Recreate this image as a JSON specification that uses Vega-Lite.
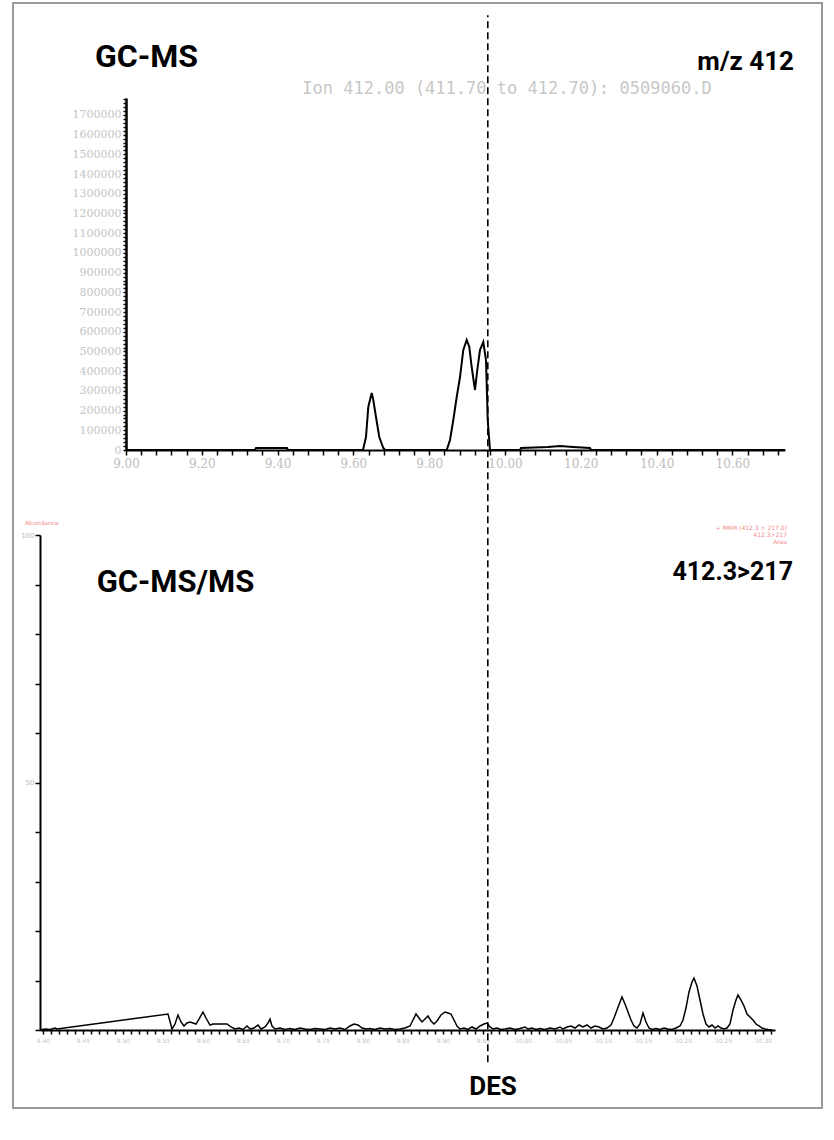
{
  "$schema": "https://vega.github.io/schema/vega-lite/v6.json",
  "width": 809,
  "height": 1105,
  "padding": {"left": 13, "top": 3, "right": 12, "bottom": 32},
  "autosize": {"type": "none"},
  "background": "white",
  "config": {"view": {"stroke": "#9a9a9a", "strokeWidth": 2}, "axis": {"grid": false}},
  "datasets": {
    "top": [
      {"t": 9.0, "v": 0}, {"t": 9.3404, "v": 0}, {"t": 9.343, "v": 10148}, {"t": 9.4248, "v": 10148}, {"t": 9.4274, "v": 0},
      {"t": 9.6253, "v": 0}, {"t": 9.6332, "v": 65962}, {"t": 9.6393, "v": 218182}, {"t": 9.6483, "v": 289218}, {"t": 9.6525, "v": 253700},
      {"t": 9.6596, "v": 167442}, {"t": 9.6683, "v": 65962}, {"t": 9.6789, "v": 10148}, {"t": 9.6834, "v": 0},
      {"t": 9.8462, "v": 0}, {"t": 9.8549, "v": 50740}, {"t": 9.8636, "v": 152220}, {"t": 9.8726, "v": 268922}, {"t": 9.8813, "v": 370402},
      {"t": 9.89, "v": 507400}, {"t": 9.8989, "v": 558140}, {"t": 9.9058, "v": 522622}, {"t": 9.9121, "v": 421142}, {"t": 9.9208, "v": 304440},
      {"t": 9.9269, "v": 405920}, {"t": 9.934, "v": 507400}, {"t": 9.9427, "v": 547992}, {"t": 9.9499, "v": 456660}, {"t": 9.9544, "v": 152220},
      {"t": 9.9604, "v": 0}, {"t": 10.0396, "v": 0}, {"t": 10.0422, "v": 10148}, {"t": 10.1135, "v": 15222}, {"t": 10.1451, "v": 20296},
      {"t": 10.1794, "v": 15222}, {"t": 10.2243, "v": 10148}, {"t": 10.2269, "v": 0}, {"t": 10.7388, "v": 0}
    ],
    "bottom": [
      {"t": 9.39625, "v": 0}, {"t": 9.4025, "v": 0.2}, {"t": 9.40875, "v": 0.1}, {"t": 9.415, "v": 0.4}, {"t": 9.4175, "v": 0.2},
      {"t": 9.55625, "v": 3.23}, {"t": 9.56125, "v": 0.2}, {"t": 9.565, "v": 1.21}, {"t": 9.56875, "v": 3.03}, {"t": 9.5725, "v": 1.62},
      {"t": 9.57625, "v": 0.81}, {"t": 9.58, "v": 1.41}, {"t": 9.58375, "v": 1.62}, {"t": 9.5875, "v": 1.41}, {"t": 9.59125, "v": 1.21},
      {"t": 9.595, "v": 2.22}, {"t": 9.6, "v": 3.64}, {"t": 9.60375, "v": 2.42}, {"t": 9.60875, "v": 1.01}, {"t": 9.6125, "v": 1.21},
      {"t": 9.6175, "v": 1.21}, {"t": 9.62375, "v": 1.21}, {"t": 9.63, "v": 1.21}, {"t": 9.635, "v": 0.61}, {"t": 9.64, "v": 0.2},
      {"t": 9.645, "v": 0.4}, {"t": 9.65, "v": 0.1}, {"t": 9.655, "v": 0.81}, {"t": 9.65875, "v": 0.2}, {"t": 9.66375, "v": 0.4},
      {"t": 9.66875, "v": 1.01}, {"t": 9.6725, "v": 0.2}, {"t": 9.6775, "v": 0.61}, {"t": 9.68125, "v": 1.41}, {"t": 9.68375, "v": 2.22},
      {"t": 9.68625, "v": 0.81}, {"t": 9.69, "v": 0.2}, {"t": 9.69625, "v": 0.4}, {"t": 9.7025, "v": 0.1}, {"t": 9.70875, "v": 0.3},
      {"t": 9.715, "v": 0.1}, {"t": 9.72125, "v": 0.4}, {"t": 9.7275, "v": 0.2}, {"t": 9.73375, "v": 0.1}, {"t": 9.74, "v": 0.3},
      {"t": 9.74625, "v": 0.2}, {"t": 9.7525, "v": 0.1}, {"t": 9.75875, "v": 0.4}, {"t": 9.765, "v": 0.2}, {"t": 9.77125, "v": 0.4},
      {"t": 9.7775, "v": 0.1}, {"t": 9.78375, "v": 0.81}, {"t": 9.78875, "v": 1.21}, {"t": 9.79375, "v": 1.01}, {"t": 9.79875, "v": 0.4},
      {"t": 9.80375, "v": 0.2}, {"t": 9.80875, "v": 0.3}, {"t": 9.815, "v": 0.1}, {"t": 9.82125, "v": 0.4}, {"t": 9.8275, "v": 0.2},
      {"t": 9.83375, "v": 0.3}, {"t": 9.84, "v": 0.1}, {"t": 9.84625, "v": 0.2}, {"t": 9.8525, "v": 0.4}, {"t": 9.85875, "v": 0.81},
      {"t": 9.8625, "v": 2.02}, {"t": 9.86625, "v": 3.23}, {"t": 9.87, "v": 2.42}, {"t": 9.87375, "v": 1.62}, {"t": 9.8775, "v": 2.22},
      {"t": 9.88125, "v": 2.83}, {"t": 9.885, "v": 1.82}, {"t": 9.88875, "v": 1.21}, {"t": 9.8925, "v": 1.82}, {"t": 9.8975, "v": 3.03},
      {"t": 9.9025, "v": 3.64}, {"t": 9.90625, "v": 3.43}, {"t": 9.91, "v": 3.23}, {"t": 9.91375, "v": 2.02}, {"t": 9.9175, "v": 0.81},
      {"t": 9.92125, "v": 0.2}, {"t": 9.92625, "v": 0.4}, {"t": 9.93125, "v": 0.1}, {"t": 9.93625, "v": 0.61}, {"t": 9.94125, "v": 0.2},
      {"t": 9.94625, "v": 0.81}, {"t": 9.95125, "v": 1.21}, {"t": 9.955, "v": 1.41}, {"t": 9.95875, "v": 0.61}, {"t": 9.9625, "v": 0.2},
      {"t": 9.9675, "v": 0.4}, {"t": 9.9725, "v": 0.1}, {"t": 9.9775, "v": 0.2}, {"t": 9.98375, "v": 0.4}, {"t": 9.99, "v": 0.1},
      {"t": 9.99625, "v": 0.3}, {"t": 10.0025, "v": 0.61}, {"t": 10.00625, "v": 0.2}, {"t": 10.01125, "v": 0.4}, {"t": 10.01625, "v": 0.1},
      {"t": 10.02125, "v": 0.3}, {"t": 10.0275, "v": 0.1}, {"t": 10.03375, "v": 0.4}, {"t": 10.04, "v": 0.2}, {"t": 10.04625, "v": 0.61},
      {"t": 10.05, "v": 0.2}, {"t": 10.055, "v": 0.61}, {"t": 10.06, "v": 0.81}, {"t": 10.065, "v": 0.4}, {"t": 10.07, "v": 1.01},
      {"t": 10.075, "v": 0.61}, {"t": 10.08, "v": 1.01}, {"t": 10.085, "v": 0.4}, {"t": 10.09, "v": 0.81}, {"t": 10.095, "v": 0.61},
      {"t": 10.1, "v": 0.2}, {"t": 10.105, "v": 0.4}, {"t": 10.11, "v": 1.01}, {"t": 10.11375, "v": 2.42}, {"t": 10.1175, "v": 4.04},
      {"t": 10.12125, "v": 5.66}, {"t": 10.12375, "v": 6.67}, {"t": 10.1275, "v": 5.25}, {"t": 10.13125, "v": 3.64}, {"t": 10.135, "v": 2.02},
      {"t": 10.13875, "v": 0.81}, {"t": 10.1425, "v": 0.4}, {"t": 10.14625, "v": 1.21}, {"t": 10.15, "v": 3.43}, {"t": 10.15375, "v": 1.62},
      {"t": 10.1575, "v": 0.4}, {"t": 10.16125, "v": 0.1}, {"t": 10.16625, "v": 0.3}, {"t": 10.17125, "v": 0.1}, {"t": 10.17625, "v": 0.4},
      {"t": 10.18125, "v": 0.2}, {"t": 10.18625, "v": 0.1}, {"t": 10.19125, "v": 0.4}, {"t": 10.19625, "v": 0.81}, {"t": 10.2, "v": 2.02},
      {"t": 10.20375, "v": 4.44}, {"t": 10.2075, "v": 7.68}, {"t": 10.21125, "v": 9.7}, {"t": 10.21375, "v": 10.5}, {"t": 10.2175, "v": 8.89},
      {"t": 10.22125, "v": 6.06}, {"t": 10.225, "v": 3.23}, {"t": 10.22875, "v": 1.21}, {"t": 10.2325, "v": 0.61}, {"t": 10.23625, "v": 1.01},
      {"t": 10.24, "v": 0.4}, {"t": 10.24375, "v": 0.81}, {"t": 10.2475, "v": 0.4}, {"t": 10.25125, "v": 0.2}, {"t": 10.255, "v": 0.4},
      {"t": 10.25875, "v": 1.21}, {"t": 10.2625, "v": 4.04}, {"t": 10.26625, "v": 6.06}, {"t": 10.26875, "v": 7.07}, {"t": 10.2725, "v": 6.06},
      {"t": 10.27625, "v": 4.85}, {"t": 10.28, "v": 3.23}, {"t": 10.28375, "v": 2.63}, {"t": 10.2875, "v": 2.02}, {"t": 10.29125, "v": 1.21},
      {"t": 10.295, "v": 0.81}, {"t": 10.29875, "v": 0.4}, {"t": 10.3025, "v": 0.2}, {"t": 10.30625, "v": 0.1}, {"t": 10.31125, "v": 0}
    ],
    "topTitleLeft": [{"t": 8.918, "v": 1944900, "label": "GC-MS"}],
    "topTitleRight": [{"t": 10.7625, "v": 1928100, "label": "m/z 412"}],
    "topHeader": [{"t": 10.0053, "v": 1806300, "label": "Ion 412.00 (411.70 to 412.70): 0509060.D"}],
    "bottomTitleLeft": [{"t": 9.4671, "v": 88.5, "label": "GC-MS/MS"}],
    "bottomTitleRight": [{"t": 10.3375, "v": 90.9, "label": "412.3>217"}],
    "bottomDes": [{"t": 9.9625, "v": -13.1, "label": "DES"}],
    "bottomRedLeft": [{"t": 9.3775, "v": 102.0, "label": "Abundance"}],
    "bottomRedRight": [
      {"t": 10.33, "v": 101.0, "label": "+ MRM (412.3 > 217.0)"},
      {"t": 10.33, "v": 99.6, "label": "412.3>217"},
      {"t": 10.33, "v": 98.2, "label": "Area"}
    ],
    "desLine": [{"t": 9.956, "v": -6.5, "v2": 205}]
  },
  "layer": [
    {
      "encoding": {
        "x": {
          "field": "t", "type": "quantitative",
          "scale": {"domain": [9.0, 10.7388], "range": [113, 772], "nice": false, "zero": false},
          "axis": {
            "orient": "bottom", "offset": -658, "title": null, "grid": false,
            "values": [9, 9.04, 9.08, 9.12, 9.16, 9.2, 9.24, 9.28, 9.32, 9.36, 9.4, 9.44, 9.48, 9.52, 9.56, 9.6, 9.64, 9.68, 9.72, 9.76, 9.8, 9.84, 9.88, 9.92, 9.96, 10, 10.04, 10.08, 10.12, 10.16, 10.2, 10.24, 10.28, 10.32, 10.36, 10.4, 10.44, 10.48, 10.52, 10.56, 10.6, 10.64, 10.68, 10.72],
            "labelExpr": "round(datum.value*100) % 20 == 0 ? format(datum.value, '.2f') : ''",
            "labelFlush": false, "labelOverlap": false,
            "domainColor": "black", "domainWidth": 2, "tickColor": "black", "tickWidth": 1.5, "tickSize": 5,
            "labelColor": "#bdbdbd", "labelFont": "DejaVu Serif", "labelFontSize": 12, "labelPadding": 3
          }
        },
        "y": {
          "field": "v", "type": "quantitative",
          "scale": {"domain": [0, 1786000], "range": [447, 95], "nice": false, "zero": false},
          "axis": {
            "orient": "left", "offset": -113, "title": null, "grid": false,
            "values": [0,20000,40000,60000,80000,100000,120000,140000,160000,180000,200000,220000,240000,260000,280000,300000,320000,340000,360000,380000,400000,420000,440000,460000,480000,500000,520000,540000,560000,580000,600000,620000,640000,660000,680000,700000,720000,740000,760000,780000,800000,820000,840000,860000,880000,900000,920000,940000,960000,980000,1000000,1020000,1040000,1060000,1080000,1100000,1120000,1140000,1160000,1180000,1200000,1220000,1240000,1260000,1280000,1300000,1320000,1340000,1360000,1380000,1400000,1420000,1440000,1460000,1480000,1500000,1520000,1540000,1560000,1580000,1600000,1620000,1640000,1660000,1680000,1700000,1720000,1740000,1760000,1780000],
            "labelExpr": "(datum.value % 100000 == 0 && datum.value <= 1700000) ? format(datum.value, 'd') : ''",
            "labelOverlap": false, "labelFlush": false,
            "domainColor": "black", "domainWidth": 2.5, "tickColor": "black", "tickWidth": 1.5, "tickSize": 3,
            "labelColor": "#c4c4c4", "labelFont": "DejaVu Serif", "labelFontSize": 11, "labelPadding": 2, "labelBaseline": "middle"
          }
        }
      },
      "layer": [
        {"data": {"name": "top"}, "mark": {"type": "line", "color": "black", "strokeWidth": 2}},
        {"data": {"name": "topTitleLeft"}, "mark": {"type": "text", "align": "left", "baseline": "alphabetic", "font": "Roboto", "fontWeight": "bold", "fontSize": 32, "color": "black"}, "encoding": {"text": {"field": "label"}}},
        {"data": {"name": "topTitleRight"}, "mark": {"type": "text", "align": "right", "baseline": "alphabetic", "font": "Roboto", "fontWeight": "bold", "fontSize": 26, "color": "black"}, "encoding": {"text": {"field": "label"}}},
        {"data": {"name": "topHeader"}, "mark": {"type": "text", "align": "center", "baseline": "alphabetic", "font": "DejaVu Sans Mono", "fontSize": 17, "color": "#c8c8c8"}, "encoding": {"text": {"field": "label"}}}
      ]
    },
    {
      "encoding": {
        "x": {
          "field": "t", "type": "quantitative",
          "scale": {"domain": [9.39625, 10.315], "range": [27, 762], "nice": false, "zero": false},
          "axis": {
            "orient": "bottom", "offset": -78, "title": null, "grid": false,
            "values": [9.4,9.41,9.42,9.43,9.44,9.45,9.46,9.47,9.48,9.49,9.5,9.51,9.52,9.53,9.54,9.55,9.56,9.57,9.58,9.59,9.6,9.61,9.62,9.63,9.64,9.65,9.66,9.67,9.68,9.69,9.7,9.71,9.72,9.73,9.74,9.75,9.76,9.77,9.78,9.79,9.8,9.81,9.82,9.83,9.84,9.85,9.86,9.87,9.88,9.89,9.9,9.91,9.92,9.93,9.94,9.95,9.96,9.97,9.98,9.99,10,10.01,10.02,10.03,10.04,10.05,10.06,10.07,10.08,10.09,10.1,10.11,10.12,10.13,10.14,10.15,10.16,10.17,10.18,10.19,10.2,10.21,10.22,10.23,10.24,10.25,10.26,10.27,10.28,10.29,10.3,10.31],
            "labelExpr": "round(datum.value*100) % 5 == 0 ? format(datum.value, '.2f') : ''",
            "labelFlush": false, "labelOverlap": false,
            "domainColor": "black", "domainWidth": 2, "tickColor": "black", "tickWidth": 1.5, "tickSize": 4,
            "labelColor": "#c4c4c4", "labelFont": "DejaVu Sans", "labelFontSize": 6, "labelPadding": 3
          }
        },
        "y": {
          "field": "v", "type": "quantitative",
          "scale": {"domain": [0, 100], "range": [1027, 532], "nice": false, "zero": false},
          "axis": {
            "orient": "left", "offset": -27, "title": null, "grid": false,
            "values": [0, 10, 20, 30, 40, 50, 60, 70, 80, 90, 100],
            "labelExpr": "datum.value == 100 || datum.value == 50 ? format(datum.value, 'd') : ''",
            "labelOverlap": false, "labelFlush": false,
            "domainColor": "black", "domainWidth": 2, "tickColor": "black", "tickWidth": 1.5, "tickSize": 5,
            "labelColor": "#bbbbbb", "labelFont": "DejaVu Sans", "labelFontSize": 7, "labelPadding": 1
          }
        }
      },
      "layer": [
        {"data": {"name": "bottom"}, "mark": {"type": "line", "color": "black", "strokeWidth": 1.5}},
        {"data": {"name": "desLine"}, "mark": {"type": "rule", "color": "black", "strokeWidth": 1.6, "strokeDash": [7, 4]}, "encoding": {"y2": {"field": "v2"}}},
        {"data": {"name": "bottomTitleLeft"}, "mark": {"type": "text", "align": "left", "baseline": "alphabetic", "font": "Roboto", "fontWeight": "bold", "fontSize": 31, "color": "black"}, "encoding": {"text": {"field": "label"}}},
        {"data": {"name": "bottomTitleRight"}, "mark": {"type": "text", "align": "right", "baseline": "alphabetic", "font": "Roboto", "fontWeight": "bold", "fontSize": 25, "color": "black"}, "encoding": {"text": {"field": "label"}}},
        {"data": {"name": "bottomDes"}, "mark": {"type": "text", "align": "center", "baseline": "alphabetic", "font": "Roboto", "fontWeight": "bold", "fontSize": 26, "color": "black"}, "encoding": {"text": {"field": "label"}}},
        {"data": {"name": "bottomRedLeft"}, "mark": {"type": "text", "align": "left", "baseline": "alphabetic", "font": "DejaVu Sans", "fontSize": 6, "color": "#f08c8c"}, "encoding": {"text": {"field": "label"}}},
        {"data": {"name": "bottomRedRight"}, "mark": {"type": "text", "align": "right", "baseline": "alphabetic", "font": "DejaVu Sans", "fontSize": 6, "color": "#f08c8c"}, "encoding": {"text": {"field": "label"}}}
      ]
    }
  ],
  "resolve": {
    "scale": {"x": "independent", "y": "independent"},
    "axis": {"x": "independent", "y": "independent"}
  }
}
